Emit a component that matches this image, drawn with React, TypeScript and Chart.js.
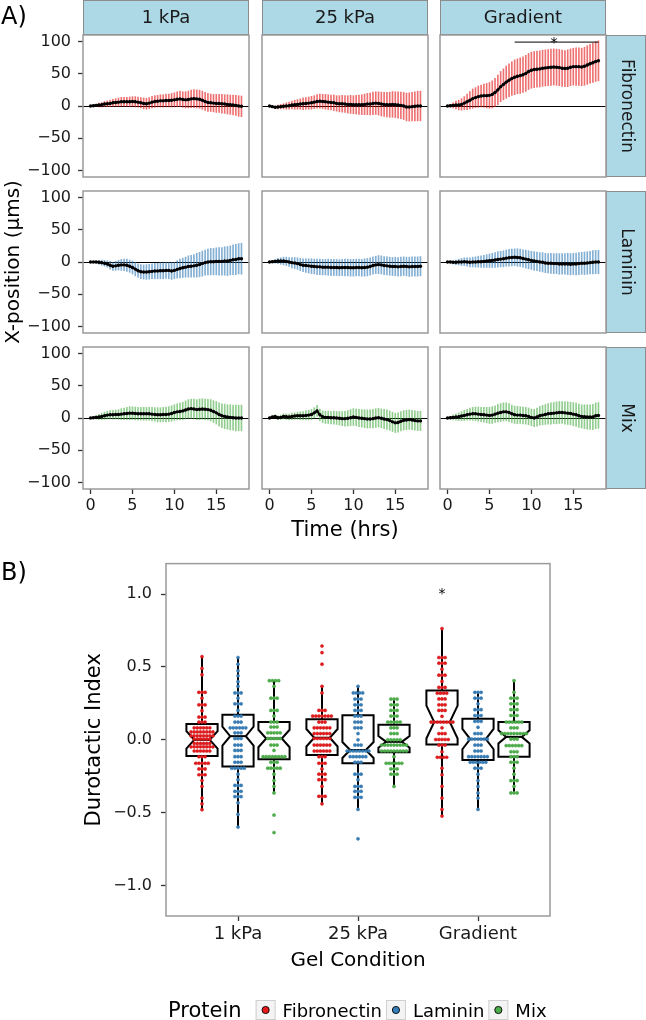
import React, { useEffect, useRef } from "react";
import { Chart, registerables } from "chart.js";

Chart.register(...registerables);

const FONT = "'DejaVu Sans', 'Liberation Sans', sans-serif";
const TEXT = "#1a1a1a";
const BORDER = "#9a9a9a";
const STRIP_FILL = "#ADD8E6";
const STRIP_EDGE = "#8c8c8c";

// ---------------- Panel A data ----------------
const TIME_MIN = [0, 20, 40, 60, 80, 100, 120, 140, 160, 180, 200, 220, 240, 260, 280, 300, 320, 340, 360, 380, 400, 420, 440, 460, 480, 500, 520, 540, 560, 580, 600, 620, 640, 660, 680, 700, 720, 740, 760, 780, 800, 820, 840, 860, 880, 900, 920, 940, 960, 980, 1000, 1020, 1040, 1060, 1080];

const CONDITIONS = ["1 kPa", "25 kPa", "Gradient"];
const PROTEINS = ["Fibronectin", "Laminin", "Mix"];
const PROTEIN_COLORS = ["#E41A1C", "#377EB8", "#4DAF4A"];
const DOT_EDGE = ["#c81416", "#2f6ea3", "#3f9a3d"];
const ERRBAR_COLORS = ["rgba(228,26,28,0.62)", "rgba(55,126,184,0.62)", "rgba(77,175,74,0.62)"];

const MEAN_FN_1KPA = [0, 0.5, 1, 1.5, 2, 3, 3.5, 4, 5, 5.5, 6, 6.5, 6.5, 6.5, 6.5, 7, 6.5, 6, 5, 4, 3.5, 4.5, 6, 7, 7.5, 8, 8, 8.5, 8.5, 9, 9.5, 10.5, 11, 10, 9.5, 10, 11, 11.5, 11, 10.5, 9, 7, 5.5, 5, 4.5, 4, 4, 3.5, 3, 2.5, 2, 1.5, 1, 0, -0.5];
const ERR_FN_1KPA = [0, 1, 2, 3, 3.5, 4, 4.5, 5, 5.5, 6, 6.5, 7, 7, 7, 7.5, 7.5, 8, 8, 8, 8.5, 8.5, 8.5, 9, 9, 9, 9.5, 9.5, 10, 10, 10.5, 11, 11.5, 12, 12, 12.5, 13, 13.5, 14, 14, 14, 14, 14, 14, 13.5, 13.5, 14, 14, 14.5, 14.5, 15, 15, 15.5, 15.5, 16, 16];
const MEAN_FN_25KPA = [0, -1, -2, -1.5, -1, -0.5, 0, 0.5, 1.5, 2, 2.5, 3, 3.5, 4, 4.5, 5, 6, 7, 7.5, 7, 6.5, 6, 5.5, 5, 4, 3.5, 3.5, 3, 2.5, 2.5, 2, 2, 2, 2, 2.5, 3, 3, 4, 4.5, 4, 3, 2.5, 2, 2, 2.5, 2, 1.5, 1, 0, -1.5, -1.5, -1, -0.5, 0, 0];
const ERR_FN_25KPA = [0, 1, 2, 3, 3.5, 4, 5, 5.5, 6, 7, 7.5, 8, 9, 9, 9.5, 10, 10, 10.5, 11, 11, 11.5, 11.5, 11.5, 12, 12, 12.5, 13, 13, 13.5, 14, 14, 14.5, 15, 15.5, 16, 16.5, 17, 17.5, 17.5, 18, 18.5, 18.5, 19, 19.5, 20, 20, 20.5, 20.5, 21, 21.5, 22, 22, 22.5, 23, 23];
const MEAN_FN_GRAD = [0, 0.5, 1, 1.5, 1.5, 2.5, 4.5, 6.5, 9, 11.5, 13, 14.5, 15.5, 16, 16, 16.5, 18, 21, 25, 30, 33.5, 37, 40, 42.5, 44.5, 46, 47, 48.5, 50.5, 53.5, 55.5, 56.5, 57, 57.5, 58.5, 59, 59.5, 60, 60.5, 60, 59.5, 58.5, 58, 58.5, 60, 61, 61, 61, 60.5, 61.5, 63.5, 65.5, 67, 69, 70];
const ERR_FN_GRAD = [0, 2, 4, 6, 7.5, 9, 10, 12, 13.5, 15, 15.5, 16.5, 17, 18, 19, 20, 21, 22, 23, 23.5, 24, 25, 25.5, 26, 27, 27, 27.5, 27.5, 28, 28, 28, 28, 28, 28, 28, 28, 28, 28, 28, 28, 28, 28, 28, 28.5, 28.5, 28.5, 29, 29, 29, 29.5, 30, 30, 30.5, 31, 31];

const MEAN_LN_1KPA = [0, 0, 0, -0.5, -1, -2, -3, -5, -6.5, -6, -5, -4.5, -4.5, -5, -6.5, -8.5, -11, -13.5, -15, -15.5, -15.5, -15, -14.5, -14, -14, -13.5, -13.5, -13, -13, -14, -13, -11.5, -10, -9, -8, -7, -6.5, -6, -5, -4, -2.5, -1, 0, 0.5, 0.5, 1, 1, 1, 1.5, 1.5, 2.5, 3.5, 4, 5, 5];
const ERR_LN_1KPA = [0, 1, 2, 3, 4, 4.5, 5, 6, 6.5, 7, 7.5, 8.5, 9, 9.5, 9.5, 10, 10.5, 10.5, 11, 11, 11.5, 11.5, 11.5, 12, 12, 12.5, 12.5, 12.5, 13, 13, 13, 13.5, 14.5, 15, 15.5, 16.5, 17, 17.5, 18.5, 19, 19.5, 19.5, 20, 20.5, 20.5, 21, 21.5, 21.5, 22, 22.5, 22.5, 23, 23.5, 23.5, 24];
const MEAN_LN_25KPA = [0, 0.5, 1, 1.5, 1.5, 1.5, 1, 0, -1, -1.5, -2.5, -4, -5, -5.5, -6, -6.5, -7, -7.5, -7.5, -8, -8, -8, -8.5, -8.5, -8.5, -9, -8.5, -8.5, -8.5, -9, -9, -8.5, -8.5, -9, -8.5, -8, -7, -5.5, -4.5, -4, -4.5, -5.5, -6, -6.5, -7, -7, -7.5, -7, -6.5, -7, -7.5, -7, -7, -7, -6.5];
const ERR_LN_25KPA = [0, 1.5, 3, 4, 5, 6, 6.5, 7, 8, 8.5, 9, 9.5, 10, 10.5, 11, 11.5, 11.5, 12, 12, 12, 12, 12.5, 12.5, 12.5, 12.5, 12.5, 12.5, 13, 13, 13, 13, 13, 13, 13, 13.5, 13.5, 13.5, 13.5, 13.5, 14, 14, 14, 14, 14, 14, 14.5, 14.5, 14.5, 14.5, 14.5, 15, 15, 15, 15, 15];
const MEAN_LN_GRAD = [0, 0, -0.5, -0.5, 0, 0, 0.5, 0, -0.5, 0, 0, 0.5, 0.5, 1, 1.5, 2, 2.5, 3, 4, 4.5, 5, 6, 6.5, 7, 7.5, 7, 6.5, 5.5, 4.5, 3.5, 2.5, 1.5, 1, 0, -0.5, -1.5, -2, -2, -2.5, -2.5, -3, -3, -3, -3, -3.5, -3, -3, -2.5, -2, -2, -1.5, -1, -0.5, 0, 0];
const ERR_LN_GRAD = [0, 1.5, 2.5, 3.5, 4.5, 5.5, 6, 6.5, 7, 7.5, 8, 8.5, 9, 9.5, 10, 10.5, 11, 11.5, 12, 12, 12.5, 12.5, 13, 13, 13, 13.5, 13.5, 13.5, 14, 14, 14, 14.5, 14.5, 14.5, 15, 15, 15, 15.5, 15.5, 15.5, 16, 16, 16, 16.5, 16.5, 16.5, 17, 17, 17, 17.5, 17.5, 17.5, 18, 18, 18];

const MEAN_MX_1KPA = [0, 0.5, 1, 1.5, 2.5, 3.5, 4.5, 5, 5, 5.5, 5.5, 6, 6.5, 7, 7.5, 7.5, 7, 6.5, 6.5, 6.5, 6.5, 6.5, 6, 5.5, 5, 5, 5.5, 5.5, 6, 7, 8.5, 9.5, 10, 11, 12.5, 14, 14.5, 14, 13, 13.5, 14, 13.5, 13, 12, 10, 8, 5.5, 3.5, 2.5, 1.5, 1, 0.5, 0, 0, 0];
const ERR_MX_1KPA = [0, 1.5, 3, 4, 5, 5.5, 6, 6.5, 7, 7, 7.5, 8.5, 9, 9.5, 10, 10, 10, 10, 10, 10, 10, 10, 10.5, 10.5, 11, 11, 11, 11.5, 11.5, 12, 12, 12.5, 13, 13.5, 14, 14.5, 15, 15.5, 15.5, 16, 16, 16, 16, 16.5, 17, 17.5, 18, 18.5, 19, 19, 19.5, 19.5, 20, 20, 20];
const MEAN_MX_25KPA = [0, 1.5, 2.5, 0.5, 1, 2.5, 2, 1.5, 2.5, 3, 3.5, 3.5, 3.5, 4, 4.5, 5.5, 8, 11, 5, 2, 1, 1, 0.5, 0.5, 0, -0.5, -1, -1, -0.5, 0.5, 1.5, 1, 0, -0.5, -1, -1.5, -1.5, -1, 0, 0.5, -0.5, -1.5, -2.5, -4, -6, -7.5, -7, -5, -3.5, -3, -2.5, -3, -4, -4.5, -4.5];
const ERR_MX_25KPA = [0, 1, 2, 3, 3.5, 4, 4.5, 4.5, 5, 5, 5.5, 6, 6.5, 7, 7.5, 8, 8, 8.5, 9, 9, 9.5, 9.5, 9.5, 10, 10, 10.5, 11, 11.5, 12, 12.5, 13, 13, 13.5, 13.5, 14, 14, 14, 14.5, 14.5, 14.5, 14.5, 15, 15, 15, 15, 15, 15, 15, 15, 15, 15, 15, 15, 15, 15];
const MEAN_MX_GRAD = [0, 0.5, 1, 1.5, 2, 3, 4, 5, 6, 6.5, 6.5, 6, 5.5, 5, 4.5, 4, 4.5, 6, 7.5, 8.5, 9.5, 9.5, 8.5, 6.5, 5, 4.5, 4.5, 4, 3.5, 2.5, 1, 0, 1.5, 3.5, 4.5, 5.5, 6.5, 7, 7.5, 8, 8.5, 8.5, 8, 7.5, 7, 6, 5, 3.5, 2.5, 2, 1.5, 1.5, 1.5, 3.5, 4];
const ERR_MX_GRAD = [0, 2, 4, 5, 6, 7, 8, 8.5, 9.5, 10, 10.5, 11, 11, 11.5, 12, 12.5, 13, 13, 13.5, 14, 14, 14, 14, 13.5, 13.5, 13.5, 13, 13, 13, 13, 13, 13.5, 14, 14.5, 15, 15.5, 16, 16.5, 16.5, 17, 17, 17, 17.5, 17.5, 17.5, 18, 18, 18, 18, 18.5, 19, 19, 19.5, 20, 20];

const MEANS = [
  [MEAN_FN_1KPA, MEAN_FN_25KPA, MEAN_FN_GRAD],
  [MEAN_LN_1KPA, MEAN_LN_25KPA, MEAN_LN_GRAD],
  [MEAN_MX_1KPA, MEAN_MX_25KPA, MEAN_MX_GRAD],
];
const ERRS = [
  [ERR_FN_1KPA, ERR_FN_25KPA, ERR_FN_GRAD],
  [ERR_LN_1KPA, ERR_LN_25KPA, ERR_LN_GRAD],
  [ERR_MX_1KPA, ERR_MX_25KPA, ERR_MX_GRAD],
];

const SIG_BRACKET_X = [8, 18];
const SIG_BRACKET_Y = 99;
const SIG_STAR_A = { x: 12.7, y: 104 };

// ---------------- Panel B data ----------------
// dot rows: [durotactic index, number of stacked dots]
const DOTS_1KPA_FN = [[0.571, 1], [0.49, 1], [0.447, 1], [0.326, 3], [0.286, 1], [0.24, 3], [0.2, 1], [0.156, 3], [0.122, 3], [0.082, 6], [0.054, 8], [0.027, 8], [0.005, 6], [-0.025, 6], [-0.048, 8], [-0.077, 6], [-0.116, 3], [-0.161, 5], [-0.2, 3], [-0.24, 3], [-0.28, 1], [-0.32, 1], [-0.4, 1], [-0.44, 1], [-0.48, 1]];
const DOTS_1KPA_LN = [[0.565, 1], [0.519, 1], [0.474, 1], [0.44, 1], [0.399, 1], [0.367, 1], [0.322, 3], [0.286, 1], [0.247, 3], [0.202, 1], [0.163, 3], [0.122, 3], [0.082, 6], [0.048, 3], [0.009, 3], [-0.036, 3], [-0.073, 3], [-0.116, 3], [-0.154, 3], [-0.195, 5], [-0.236, 1], [-0.274, 1], [-0.313, 3], [-0.354, 3], [-0.39, 3], [-0.433, 1], [-0.512, 1], [-0.599, 1]];
const DOTS_1KPA_MX = [[0.406, 4], [0.367, 1], [0.286, 3], [0.202, 3], [0.163, 1], [0.122, 3], [0.088, 3], [0.048, 5], [0.009, 5], [-0.036, 3], [-0.073, 1], [-0.116, 8], [-0.154, 3], [-0.195, 5], [-0.236, 1], [-0.28, 1], [-0.32, 1], [-0.365, 1], [-0.517, 1], [-0.637, 1]];
const DOTS_25KPA_FN = [[0.644, 1], [0.599, 1], [0.519, 1], [0.367, 1], [0.322, 1], [0.202, 3], [0.163, 7], [0.122, 3], [0.082, 6], [0.043, 6], [0.009, 6], [-0.036, 6], [-0.077, 6], [-0.116, 3], [-0.161, 3], [-0.2, 1], [-0.236, 3], [-0.274, 3], [-0.32, 1], [-0.388, 3], [-0.44, 1]];
const DOTS_25KPA_LN = [[0.367, 1], [0.322, 4], [0.28, 3], [0.24, 3], [0.202, 3], [0.163, 3], [0.122, 3], [0.082, 3], [0.043, 1], [0.0, 1], [-0.036, 3], [-0.077, 8], [-0.116, 6], [-0.154, 3], [-0.236, 3], [-0.274, 1], [-0.32, 3], [-0.354, 3], [-0.395, 3], [-0.478, 1], [-0.68, 1]];
const DOTS_25KPA_MX = [[0.28, 3], [0.24, 3], [0.202, 3], [0.163, 3], [0.122, 5], [0.082, 3], [0.043, 3], [0.0, 5], [-0.036, 9], [-0.077, 9], [-0.116, 1], [-0.161, 6], [-0.2, 3], [-0.236, 3], [-0.32, 1]];
const DOTS_GRAD_FN = [[0.764, 1], [0.565, 3], [0.526, 3], [0.485, 1], [0.444, 3], [0.401, 1], [0.36, 3], [0.32, 4], [0.281, 3], [0.24, 3], [0.202, 3], [0.161, 1], [0.122, 8], [0.082, 1], [0.043, 3], [0.002, 5], [-0.036, 3], [-0.082, 1], [-0.12, 4], [-0.195, 1], [-0.24, 1], [-0.32, 1], [-0.4, 1], [-0.478, 1], [-0.524, 1]];
const DOTS_GRAD_LN = [[0.326, 3], [0.286, 3], [0.247, 1], [0.207, 3], [0.167, 3], [0.127, 3], [0.086, 1], [0.043, 3], [0.005, 7], [-0.036, 3], [-0.077, 3], [-0.116, 7], [-0.154, 6], [-0.195, 3], [-0.236, 1], [-0.28, 1], [-0.32, 1], [-0.365, 1], [-0.4, 1], [-0.478, 1]];
const DOTS_GRAD_MX = [[0.406, 1], [0.326, 1], [0.286, 3], [0.247, 3], [0.207, 3], [0.167, 3], [0.122, 6], [0.082, 3], [0.043, 9], [0.005, 3], [-0.04, 6], [-0.082, 3], [-0.116, 3], [-0.154, 3], [-0.195, 1], [-0.236, 1], [-0.28, 3], [-0.32, 1], [-0.365, 3]];

const DOTS = [
  [DOTS_1KPA_FN, DOTS_1KPA_LN, DOTS_1KPA_MX],
  [DOTS_25KPA_FN, DOTS_25KPA_LN, DOTS_25KPA_MX],
  [DOTS_GRAD_FN, DOTS_GRAD_LN, DOTS_GRAD_MX],
];

// box statistics, order: 1kPa(F,L,M), 25kPa(F,L,M), Gradient(F,L,M)
const BOX_MEDIAN = [0.0, 0.025, 0.009, 0.014, -0.07, -0.014, 0.122, 0.005, 0.02];
const BOX_Q1 = [-0.111, -0.184, -0.134, -0.104, -0.161, -0.086, -0.032, -0.138, -0.116];
const BOX_Q3 = [0.109, 0.172, 0.122, 0.141, 0.168, 0.104, 0.338, 0.145, 0.122];
const BOX_WHISK_LO = [-0.48, -0.599, -0.365, -0.44, -0.478, -0.32, -0.524, -0.478, -0.365];
const BOX_WHISK_HI = [0.571, 0.565, 0.406, 0.367, 0.367, 0.28, 0.764, 0.326, 0.406];
const BOX_NOTCH = [0.06, 0.065, 0.06, 0.06, 0.055, 0.04, 0.113, 0.07, 0.045];

const SIG_STAR_B = { x: 2.7, y: 1.03 };

// ---------------- layout ----------------
const COL_X = [83, 262, 440];
const ROW_Y = [35, 191, 347];
const PANEL_W = 166;
const PANEL_H = 142;
const AX_W = 83;
const STRIP_H = 35;
const STRIP_W = 40;
const AX_H = 60;
const CANVAS_W = AX_W + PANEL_W + STRIP_W;
const CANVAS_H = STRIP_H + PANEL_H + AX_H;

const DODGE = [-0.3, 0, 0.3];
const BOX_HALF = 0.13;
const NOTCH_WIDTH = 0.5;
const DOT_STEP = 0.026;

const minus = (s: string) => s.replace("-", "\u2212");

function tickGrid(show: boolean) {
  return {
    display: show,
    offset: false,
    drawOnChartArea: false,
    drawTicks: true,
    tickLength: 5,
    tickColor: "#333",
    tickWidth: 1.3,
  };
}

function facetPlugin(row: number, col: number) {
  return {
    id: "facet" + row + col,
    beforeDatasetsDraw(chart: any) {
      const { ctx, chartArea: a, scales } = chart;
      const y0 = Math.round(scales.y.getPixelForValue(0)) + 0.5;
      ctx.save();
      ctx.strokeStyle = "#000";
      ctx.lineWidth = 1;
      ctx.beginPath();
      ctx.moveTo(a.left, y0);
      ctx.lineTo(a.right, y0);
      ctx.stroke();
      ctx.restore();
    },
    afterDraw(chart: any) {
      const { ctx, chartArea: a, scales, width } = chart;
      ctx.save();
      if (row === 0) {
        ctx.fillStyle = STRIP_FILL;
        ctx.fillRect(a.left, 0, a.right - a.left, a.top);
        ctx.strokeStyle = STRIP_EDGE;
        ctx.lineWidth = 1;
        ctx.strokeRect(a.left + 0.5, 0.5, a.right - a.left - 1, a.top - 1);
        ctx.fillStyle = TEXT;
        ctx.font = `18px ${FONT}`;
        ctx.textAlign = "center";
        ctx.textBaseline = "middle";
        ctx.fillText(CONDITIONS[col], (a.left + a.right) / 2, a.top / 2 + 1);
      }
      if (col === 2) {
        ctx.fillStyle = STRIP_FILL;
        ctx.fillRect(a.right, a.top, width - a.right, a.bottom - a.top);
        ctx.strokeStyle = STRIP_EDGE;
        ctx.lineWidth = 1;
        ctx.strokeRect(a.right + 0.5, a.top + 0.5, width - a.right - 1, a.bottom - a.top - 1);
        ctx.fillStyle = TEXT;
        ctx.font = `17px ${FONT}`;
        ctx.textAlign = "center";
        ctx.textBaseline = "middle";
        ctx.translate((a.right + width) / 2, (a.top + a.bottom) / 2);
        ctx.rotate(Math.PI / 2);
        ctx.fillText(PROTEINS[row], 0, 0);
        ctx.setTransform(1, 0, 0, 1, 0, 0);
      }
      ctx.strokeStyle = BORDER;
      ctx.lineWidth = 1.5;
      ctx.strokeRect(a.left, a.top, a.right - a.left, a.bottom - a.top);
      if (row === 0 && col === 2) {
        ctx.fillStyle = "#000";
        ctx.font = `14px ${FONT}`;
        ctx.textAlign = "center";
        ctx.textBaseline = "alphabetic";
        ctx.fillText("*", scales.x.getPixelForValue(SIG_STAR_A.x), scales.y.getPixelForValue(SIG_STAR_A.y) + 8);
      }
      if (row === 0 && col === 0) {
        ctx.fillStyle = "#000";
        ctx.font = `24px ${FONT}`;
        ctx.textAlign = "left";
        ctx.textBaseline = "alphabetic";
        ctx.fillText("A)", 1, 23.5);
      }
      ctx.restore();
    },
  };
}

function panelConfig(row: number, col: number): any {
  const mean = MEANS[row][col];
  const err = ERRS[row][col];
  const showY = col === 0;
  const showX = row === 2;
  const datasets: any[] = [
    {
      type: "bar",
      data: TIME_MIN.map((m, i) => ({ x: m / 60, y: [mean[i] - err[i], mean[i] + err[i]] })),
      backgroundColor: ERRBAR_COLORS[row],
      borderWidth: 0,
      barThickness: 1,
      order: 3,
    },
    {
      type: "line",
      data: TIME_MIN.map((m, i) => ({ x: m / 60, y: mean[i] })),
      borderColor: "#000",
      borderWidth: 2,
      pointRadius: 1.7,
      pointBackgroundColor: "#000",
      pointBorderWidth: 0,
      tension: 0,
      order: 1,
    },
  ];
  if (row === 0 && col === 2) {
    datasets.push({
      type: "line",
      data: SIG_BRACKET_X.map((x) => ({ x, y: SIG_BRACKET_Y })),
      borderColor: "#000",
      borderWidth: 1,
      pointRadius: 0,
      order: 0,
    });
  }
  return {
    type: "line",
    data: { datasets },
    options: {
      animation: false,
      responsive: false,
      maintainAspectRatio: false,
      events: [],
      layout: { padding: { top: STRIP_H, right: STRIP_W, left: 0, bottom: 0 } },
      plugins: { legend: { display: false }, tooltip: { enabled: false } },
      scales: {
        x: {
          type: "linear",
          offset: false,
          min: -0.9,
          max: 18.9,
          afterFit: (s: any) => { s.height = AX_H; },
          border: { display: false },
          grid: tickGrid(showX),
          ticks: {
            display: showX,
            stepSize: 5,
            includeBounds: false,
            padding: 2,
            color: TEXT,
            font: { family: FONT, size: 16 },
            maxRotation: 0,
            callback: (v: any) => minus(String(v)),
          },
          title: {
            display: showX && col === 1,
            text: "Time (hrs)",
            color: "#000",
            font: { family: FONT, size: 21 },
            padding: { top: 0, bottom: 6 },
          },
        },
        y: {
          type: "linear",
          min: -110,
          max: 110,
          beginAtZero: false,
          afterFit: (s: any) => { s.width = AX_W; },
          border: { display: false },
          grid: tickGrid(showY),
          ticks: {
            display: showY,
            stepSize: 50,
            includeBounds: false,
            padding: 7,
            color: TEXT,
            font: { family: FONT, size: 16 },
            callback: (v: any) => minus(String(v)),
          },
          title: {
            display: showY && row === 1,
            text: "X-position (\u00b5ms)",
            color: "#000",
            font: { family: FONT, size: 20 },
            padding: { top: 2, bottom: 0 },
          },
        },
      },
    },
    plugins: [facetPlugin(row, col)],
  };
}

function dotPoints(p: number) {
  const pts: { x: number; y: number }[] = [];
  CONDITIONS.forEach((_, c) => {
    DOTS[c][p].forEach(([v, n]) => {
      for (let k = 0; k < n; k++) {
        pts.push({ x: c + 1 + DODGE[p] + (k - (n - 1) / 2) * DOT_STEP, y: v });
      }
    });
  });
  return pts;
}

const boxPlugin = {
  id: "notchedBoxes",
  beforeDatasetsDraw(chart: any) {
    const { ctx, scales } = chart;
    const X = (v: number) => scales.x.getPixelForValue(v);
    const Y = (v: number) => scales.y.getPixelForValue(v);
    ctx.save();
    CONDITIONS.forEach((_, c) => {
      PROTEINS.forEach((__, p) => {
        const k = c * 3 + p;
        const cx = c + 1 + DODGE[p];
        const L = X(cx - BOX_HALF), R = X(cx + BOX_HALF), C = X(cx);
        const Li = X(cx - BOX_HALF * NOTCH_WIDTH), Ri = X(cx + BOX_HALF * NOTCH_WIDTH);
        const med = Y(BOX_MEDIAN[k]);
        const q1 = Y(BOX_Q1[k]), q3 = Y(BOX_Q3[k]);
        const nHi = Y(BOX_MEDIAN[k] + BOX_NOTCH[k]), nLo = Y(BOX_MEDIAN[k] - BOX_NOTCH[k]);
        ctx.strokeStyle = "#000";
        ctx.lineWidth = 2;
        ctx.beginPath();
        ctx.moveTo(C, q3);
        ctx.lineTo(C, Y(BOX_WHISK_HI[k]));
        ctx.moveTo(C, q1);
        ctx.lineTo(C, Y(BOX_WHISK_LO[k]));
        ctx.stroke();
        ctx.beginPath();
        ctx.moveTo(L, q3);
        ctx.lineTo(R, q3);
        ctx.lineTo(R, nHi);
        ctx.lineTo(Ri, med);
        ctx.lineTo(R, nLo);
        ctx.lineTo(R, q1);
        ctx.lineTo(L, q1);
        ctx.lineTo(L, nLo);
        ctx.lineTo(Li, med);
        ctx.lineTo(L, nHi);
        ctx.closePath();
        ctx.fillStyle = "#fff";
        ctx.fill();
        ctx.lineJoin = "miter";
        ctx.stroke();
        ctx.beginPath();
        ctx.moveTo(Li, med);
        ctx.lineTo(Ri, med);
        ctx.stroke();
      });
    });
    ctx.restore();
  },
  afterDraw(chart: any) {
    const { ctx, chartArea: a, scales } = chart;
    ctx.save();
    ctx.strokeStyle = BORDER;
    ctx.lineWidth = 1.5;
    ctx.strokeRect(a.left, a.top, a.right - a.left, a.bottom - a.top);
    ctx.fillStyle = "#000";
    ctx.font = `14px ${FONT}`;
    ctx.textAlign = "center";
    ctx.textBaseline = "alphabetic";
    ctx.fillText("*", scales.x.getPixelForValue(SIG_STAR_B.x), scales.y.getPixelForValue(SIG_STAR_B.y) + 8);
    ctx.font = `24px ${FONT}`;
    ctx.textAlign = "left";
    ctx.fillText("B)", 1, 35);
    // legend
    const base = 472;
    let x = 168;
    ctx.font = `21px ${FONT}`;
    ctx.fillStyle = "#000";
    ctx.fillText("Protein", x, base);
    x += ctx.measureText("Protein").width + 14;
    PROTEINS.forEach((name, p) => {
      ctx.fillStyle = "#f4f4f4";
      ctx.fillRect(x, 455, 20, 20);
      ctx.strokeStyle = "#cfcfcf";
      ctx.lineWidth = 1;
      ctx.strokeRect(x + 0.5, 455.5, 19, 19);
      ctx.beginPath();
      ctx.arc(x + 10, 465, 3.6, 0, Math.PI * 2);
      ctx.fillStyle = PROTEIN_COLORS[p];
      ctx.fill();
      ctx.strokeStyle = "#000";
      ctx.lineWidth = 0.9;
      ctx.stroke();
      x += 27;
      ctx.font = `18px ${FONT}`;
      ctx.fillStyle = "#000";
      ctx.fillText(name, x, base);
      x += ctx.measureText(name).width + 4;
    });
    ctx.restore();
  },
};

function boxConfig(): any {
  return {
    type: "scatter",
    data: {
      datasets: PROTEINS.map((name, p) => ({
        label: name,
        data: dotPoints(p),
        pointRadius: 1.6,
        pointBackgroundColor: PROTEIN_COLORS[p],
        pointBorderColor: DOT_EDGE[p],
        pointBorderWidth: 0.4,
        showLine: false,
      })),
    },
    options: {
      animation: false,
      responsive: false,
      maintainAspectRatio: false,
      events: [],
      layout: { padding: { top: 16, right: 96, left: 0, bottom: 0 } },
      plugins: { legend: { display: false }, tooltip: { enabled: false } },
      scales: {
        x: {
          type: "linear",
          offset: false,
          min: 0.4,
          max: 3.6,
          afterBuildTicks: (s: any) => { s.ticks = CONDITIONS.map((_, i) => ({ value: i + 1 })); },
          afterFit: (s: any) => { s.height = 104; },
          border: { display: false },
          grid: tickGrid(true),
          ticks: {
            autoSkip: false,
            maxRotation: 0,
            padding: 3,
            color: TEXT,
            font: { family: FONT, size: 18 },
            callback: (v: any) => CONDITIONS[Math.round(v) - 1],
          },
          title: {
            display: true,
            text: "Gel Condition",
            color: "#000",
            font: { family: FONT, size: 20 },
            padding: { top: 0, bottom: 47 },
          },
        },
        y: {
          type: "linear",
          min: -1.21,
          max: 1.21,
          afterFit: (s: any) => { s.width = 166; },
          border: { display: false },
          grid: tickGrid(true),
          ticks: {
            stepSize: 0.5,
            includeBounds: false,
            padding: 9,
            color: TEXT,
            font: { family: FONT, size: 16 },
            callback: (v: any) => minus(Number(v).toFixed(1)),
          },
          title: {
            display: true,
            text: "Durotactic Index",
            color: "#000",
            font: { family: FONT, size: 21 },
            padding: { top: 82, bottom: 0 },
          },
        },
      },
    },
    plugins: [boxPlugin],
  };
}

const PANELS = [0, 1, 2].flatMap((row) => [0, 1, 2].map((col) => ({ row, col })));

export default function App() {
  const panelRefs = useRef<(HTMLCanvasElement | null)[]>([]);
  const boxRef = useRef<HTMLCanvasElement | null>(null);

  useEffect(() => {
    const charts: Chart[] = [];
    PANELS.forEach((p, i) => {
      const cv = panelRefs.current[i];
      if (cv) charts.push(new Chart(cv, panelConfig(p.row, p.col)));
    });
    if (boxRef.current) charts.push(new Chart(boxRef.current, boxConfig()));
    return () => charts.forEach((c) => c.destroy());
  }, []);

  return (
    <div style={{ position: "absolute", left: 0, top: 0, width: 646, height: 1020, background: "#fff", overflow: "hidden" }}>
      {PANELS.map((p, i) => (
        <canvas
          key={i}
          ref={(el) => { panelRefs.current[i] = el; }}
          width={CANVAS_W}
          height={CANVAS_H}
          style={{ position: "absolute", left: COL_X[p.col] - AX_W, top: ROW_Y[p.row] - STRIP_H }}
        />
      ))}
      <canvas ref={boxRef} width={646} height={475} style={{ position: "absolute", left: 0, top: 545 }} />
    </div>
  );
}
